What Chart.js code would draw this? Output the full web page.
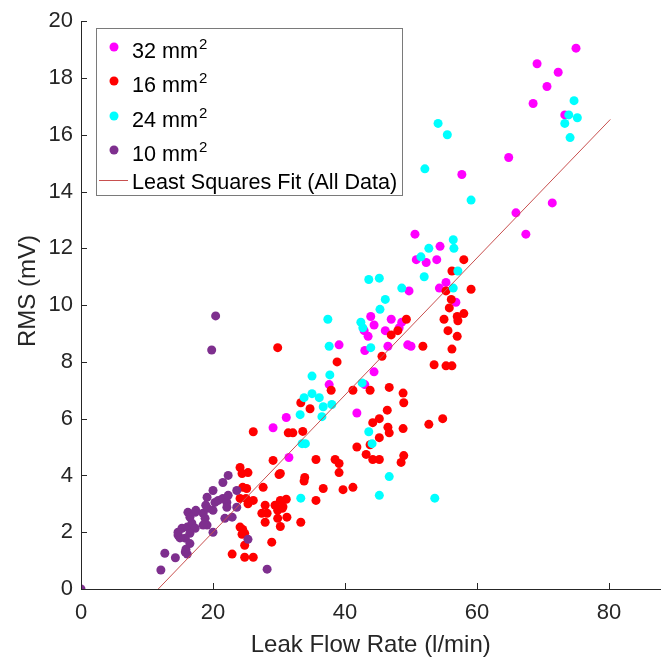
<!DOCTYPE html>
<html>
<head>
<meta charset="utf-8">
<script src="https://cdn.jsdelivr.net/npm/chart.js@4.4.0/dist/chart.umd.min.js"></script>
<style>
  html, body { margin: 0; padding: 0; background: #fff; }
  canvas { display: block; }
</style>
</head>
<body>
<canvas id="rms-chart" width="665" height="657"></canvas>
<script>
// series labels (legend text, superscript drawn separately)
const seriesNames = ['32 mm', '16 mm', '24 mm', '10 mm'];
const fitName = 'Least Squares Fit (All Data)';
const xTitle = 'Leak Flow Rate (l/min)';
const yTitle = 'RMS (mV)';

// 32 mm^2
const flow32 = [75.0, 69.1, 72.3, 70.6, 68.5, 73.3, 64.8, 71.4, 65.9, 67.4, 57.7, 50.6, 54.4, 50.8, 52.3, 53.9, 49.7, 54.3, 55.3, 56.8,
  43.9, 47.0, 48.6, 44.4, 48.2, 46.1, 42.9, 43.5, 46.5, 49.5, 50.0, 43.0, 44.4, 43.0, 39.1, 37.6, 31.1, 31.5, 41.8, 29.1];
const rms32 = [19.05, 18.5, 18.2, 17.7, 17.1, 16.7, 15.2, 13.6, 13.25, 12.5, 14.6, 12.5, 12.07, 11.6, 11.5, 11.6, 10.5, 10.6, 10.8, 10.1,
  9.6, 9.5, 9.4, 9.3, 9.2, 9.1, 9.1, 8.9, 8.55, 8.6, 8.55, 8.4, 7.65, 7.2, 8.6, 7.2, 6.04, 4.63, 6.2, 5.68];

// 16 mm^2
const flow16 = [58.0, 56.2, 55.3, 59.1, 56.1, 55.8, 58.0, 55.0, 57.0, 57.1, 55.6, 57.0, 56.2, 53.5, 55.3, 56.2,
  49.3, 47.0, 48.0, 51.8, 45.6, 38.8, 43.8, 41.2, 46.7, 48.8, 37.9, 29.8,
  48.9, 46.4, 44.2, 45.2, 46.5, 46.7, 48.8, 52.7, 54.8, 45.2, 43.8, 41.8, 43.2, 44.2, 45.2, 48.9, 48.5, 35.6, 38.5, 39.1, 39.1,
  33.9, 33.8, 36.7, 39.7, 41.2, 35.6, 33.3, 33.3, 34.7, 32.1, 33.6, 31.4, 30.2,
  26.1, 29.1, 30.0, 24.1, 25.3, 24.4, 24.5, 25.1, 27.6, 24.1, 25.0, 26.1, 25.3, 27.9, 29.4, 30.2, 31.1, 29.8, 30.5, 27.4, 28.2,
  31.2, 29.8, 30.2, 27.9, 24.1, 24.5, 24.8, 24.4, 24.8, 28.9, 22.9, 24.8, 26.1, 30.6];
const rms16 = [11.6, 11.2, 10.5, 10.56, 10.2, 9.9, 9.7, 9.5, 9.6, 9.45, 9.1, 8.9, 8.45, 7.9, 7.86, 7.86,
  9.5, 8.95, 9.1, 8.55, 8.2, 8.0, 7.0, 7.0, 7.1, 6.9, 7.0, 8.5,
  6.56, 6.3, 5.86, 6.0, 5.7, 5.5, 5.65, 5.8, 6.0, 5.33, 5.08, 5.0, 4.74, 4.56, 4.56, 4.7, 4.46, 4.56, 4.56, 4.42, 4.1,
  3.93, 3.8, 3.54, 3.5, 3.58, 3.12, 2.35, 6.56, 6.35, 5.5, 5.55, 5.5, 4.07,
  5.54, 4.53, 4.03, 4.28, 4.1, 4.07, 3.58, 3.54, 3.58, 3.19, 3.19, 3.12, 3.0, 2.95, 2.95, 3.12, 3.16, 2.77, 2.84, 2.67, 2.67,
  2.53, 2.49, 2.2, 2.35, 2.18, 2.1, 1.96, 1.93, 1.54, 1.65, 1.23, 1.12, 1.12, 2.9];

// 24 mm^2
const flow24 = [74.7, 73.9, 75.2, 73.3, 74.1, 54.1, 55.5, 52.1, 59.1, 56.4, 56.5, 52.7, 51.5, 57.1, 52.0, 43.6, 45.2, 48.6, 56.4, 46.1,
  45.3, 42.4, 42.7, 43.9, 42.6, 37.4, 37.6, 35.0, 37.7, 33.8, 35.0, 36.1, 36.7, 38.0, 33.2, 36.5, 33.5, 34.0, 43.6, 44.1,
  46.7, 45.2, 53.6, 33.3];
const rms24 = [17.2, 16.7, 16.6, 16.4, 15.9, 16.4, 16.0, 14.8, 13.7, 12.3, 12.0, 12.0, 11.7, 11.2, 11.0, 10.9, 10.95, 10.6, 10.6, 10.2,
  9.85, 9.4, 9.2, 8.5, 7.26, 9.5, 8.55, 7.5, 7.54, 6.74, 6.88, 6.74, 6.42, 6.5, 6.14, 6.07, 5.12, 5.12, 5.54, 5.12,
  3.96, 3.3, 3.2, 3.2];

// 10 mm^2
const flow10 = [0, 12.1, 12.7, 14.3, 15.8, 16.1, 15.9, 14.7, 15.3, 16.1, 16.8, 17.3, 16.5, 15.8, 16.5, 15.0, 14.7,
  16.2, 16.5, 17.3, 18.5, 18.9, 19.2, 18.8, 19.1, 18.5, 17.4, 20.0, 20.3, 20.8, 19.1, 20.0, 21.5, 22.1, 22.3, 22.1, 21.8,
  22.9, 23.6, 23.6, 21.5, 22.3, 20.0, 25.3, 28.2, 19.8, 20.4];
const rms10 = [0, 0.67, 1.26, 1.1, 1.3, 1.23, 1.4, 1.9, 2.14, 2.18, 2.32, 2.14, 1.96, 1.79, 1.6, 1.8, 2.0,
  2.7, 2.53, 2.7, 2.67, 2.95, 2.84, 2.49, 2.25, 2.25, 2.77, 2.77, 3.05, 3.12, 3.23, 3.47, 3.19, 3.05, 3.3, 2.88, 2.49,
  2.53, 2.88, 3.47, 3.75, 4.0, 2.0, 1.75, 0.7, 8.42, 9.62];

// least squares fit end points
const fitFlow = [11.7, 80.2];
const fitRms = [0, 16.54];

// tick labels
const xTicks = [0, 20, 40, 60, 80];
const yTicks = [0, 2, 4, 6, 8, 10, 12, 14, 16, 18, 20];

const colors = ['#ff00ff', '#ff0000', '#00ffff', '#7e2f8e'];
const fitColor = '#c8504f';
const axisColor = '#262626';
const FONT = '"Liberation Sans", Arial, Helvetica, sans-serif';

const pts = (xs, ys) => xs.map((x, i) => ({ x: x, y: ys[i] }));

// MATLAB-style ticks pointing into the plot, plus the y title
const innerTicks = {
  id: 'innerTicks',
  afterDatasetsDraw(chart) {
    const { ctx, chartArea, scales } = chart;
    ctx.save();
    ctx.strokeStyle = axisColor;
    ctx.lineWidth = 1;
    ctx.beginPath();
    scales.x.ticks.forEach(t => {
      const px = Math.round(scales.x.getPixelForValue(t.value)) + 0.5;
      ctx.moveTo(px, chartArea.bottom);
      ctx.lineTo(px, chartArea.bottom - 6);
    });
    scales.y.ticks.forEach(t => {
      const py = Math.round(scales.y.getPixelForValue(t.value)) + 0.5;
      ctx.moveTo(chartArea.left, py);
      ctx.lineTo(chartArea.left + 6, py);
    });
    ctx.stroke();

    ctx.translate(28, 291);
    ctx.rotate(-Math.PI / 2);
    ctx.fillStyle = axisColor;
    ctx.font = '24px ' + FONT;
    ctx.textAlign = 'center';
    ctx.textBaseline = 'middle';
    ctx.fillText(yTitle, 0, 0);
    ctx.restore();
  }
};

// legend box with superscript units
const boxLegend = {
  id: 'boxLegend',
  afterDraw(chart) {
    const ctx = chart.ctx;
    const bx = 96, by = 28, bw = 306, bh = 167;
    ctx.save();
    ctx.fillStyle = '#fff';
    ctx.fillRect(bx, by, bw, bh);
    ctx.strokeStyle = '#7a7a7a';
    ctx.lineWidth = 1;
    ctx.strokeRect(bx + 0.5, by + 0.5, bw, bh);

    const rowY = [58, 92, 127, 161];
    ctx.textBaseline = 'alphabetic';
    seriesNames.forEach((name, i) => {
      ctx.fillStyle = colors[i];
      ctx.beginPath();
      ctx.arc(114, rowY[i] - 11, 4.5, 0, Math.PI * 2);
      ctx.fill();
      ctx.fillStyle = '#000';
      ctx.font = '21.6px ' + FONT;
      ctx.fillText(name, 132, rowY[i]);
      const w = ctx.measureText(name).width;
      ctx.font = '15px ' + FONT;
      ctx.fillText('2', 132 + w + 1, rowY[i] - 9);
    });

    ctx.strokeStyle = fitColor;
    ctx.beginPath();
    ctx.moveTo(99, 180.5);
    ctx.lineTo(128, 180.5);
    ctx.stroke();
    ctx.fillStyle = '#000';
    ctx.font = '21.6px ' + FONT;
    ctx.fillText(fitName, 132, 189);
    ctx.restore();
  }
};

const scatterSet = (label, xs, ys, color, order) => ({
  type: 'scatter',
  label: label,
  data: pts(xs, ys),
  backgroundColor: color,
  borderWidth: 0,
  pointRadius: 4.5,
  pointHoverRadius: 4.5,
  order: order
});

new Chart(document.getElementById('rms-chart'), {
  data: {
    datasets: [
      {
        type: 'line',
        label: fitName,
        data: pts(fitFlow, fitRms),
        borderColor: fitColor,
        borderWidth: 1,
        pointRadius: 0,
        fill: false,
        order: 0
      },
      scatterSet('10 mm2', flow10, rms10, colors[3], 1),
      scatterSet('24 mm2', flow24, rms24, colors[2], 2),
      scatterSet('16 mm2', flow16, rms16, colors[1], 3),
      scatterSet('32 mm2', flow32, rms32, colors[0], 4)
    ]
  },
  options: {
    responsive: false,
    animation: false,
    devicePixelRatio: 1,
    layout: { padding: { top: 19, right: 0, left: 0, bottom: 0 } },
    plugins: { legend: { display: false }, tooltip: { enabled: false } },
    scales: {
      x: {
        type: 'linear',
        min: 0,
        max: 87.8,
        afterBuildTicks: s => { s.ticks = xTicks.map(v => ({ value: v })); },
        afterFit: s => { s.height = 68; },
        grid: { display: false, drawTicks: false },
        border: { display: true, color: axisColor, width: 1 },
        ticks: { color: axisColor, font: { family: FONT, size: 22 }, padding: 11, maxRotation: 0 },
        title: { display: true, text: xTitle, color: axisColor,
                 font: { family: FONT, size: 24, lineHeight: 1 }, padding: { top: 0, bottom: 0 } }
      },
      y: {
        type: 'linear',
        min: 0,
        max: 20,
        afterBuildTicks: s => { s.ticks = yTicks.map(v => ({ value: v })); },
        afterFit: s => { s.width = 81; },
        grid: { display: false, drawTicks: false },
        border: { display: true, color: axisColor, width: 1 },
        ticks: { color: axisColor, font: { family: FONT, size: 22 }, padding: 8 }
      }
    }
  },
  plugins: [innerTicks, boxLegend]
});
</script>
</body>
</html>
